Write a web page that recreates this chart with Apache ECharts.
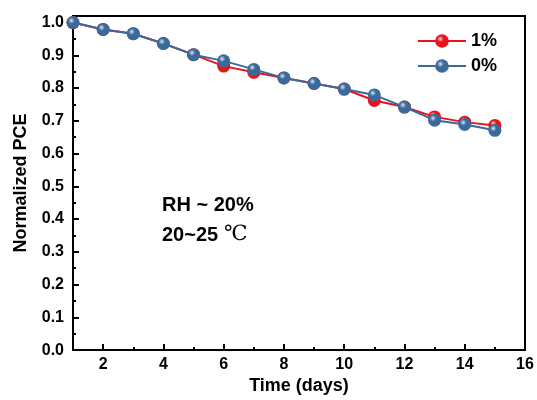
<!DOCTYPE html>
<html><head><meta charset="utf-8">
<script src="https://cdn.jsdelivr.net/npm/echarts@6/dist/echarts.min.js"></script>
<style>html,body{margin:0;padding:0;background:#fff}#c{width:537px;height:400px}</style>
</head><body><div id="c"></div>
<script>
var days = [1,2,3,4,5,6,7,8,9,10,11,12,13,14,15];
var pce1 = [1.0,0.979,0.966,0.936,0.902,0.867,0.848,0.831,0.814,0.797,0.762,0.742,0.712,0.696,0.686];
var pce0 = [1.0,0.979,0.966,0.936,0.902,0.883,0.857,0.831,0.814,0.797,0.779,0.742,0.702,0.689,0.671];
var seriesNames = ['1%','0%'];
var xMajor = [2,4,6,8,10,12,14,16];
var xMinor = [1,3,5,7,9,11,13,15];
var yMajor = [0,0.1,0.2,0.3,0.4,0.5,0.6,0.7,0.8,0.9,1.0];
var yMinor = [0.05,0.15,0.25,0.35,0.45,0.55,0.65,0.75,0.85,0.95];
var noteLines = ['RH ~ 20%','20~25 ℃'];

function ball(c, hi){
  return {type:'radial',x:0.38,y:0.35,r:0.7,colorStops:[{offset:0,color:hi},{offset:0.35,color:c},{offset:1,color:c}]};
}
var chart = echarts.init(document.getElementById('c'),null,{renderer:'canvas'});
var font = 'Arial, "Liberation Sans", sans-serif';
var lbl = {fontFamily:font,fontWeight:'bold',fontSize:16,color:'#000'};
function pairs(v){return days.map(function(d,i){return [d,v[i]];});}
chart.setOption({
  animation:false,
  grid:{left:73,right:12,top:16,bottom:46,show:true,borderColor:'#000',borderWidth:2,backgroundColor:'transparent'},
  legend:{orient:'vertical',left:412,top:27,itemWidth:48,itemHeight:17,itemGap:7,
    textStyle:{fontFamily:font,fontWeight:'bold',fontSize:18,color:'#000'},data:seriesNames},
  xAxis:[
    {type:'value',min:1,max:16,
     axisLine:{lineStyle:{color:'#000',width:2}},
     axisTick:{inside:true,length:6,lineStyle:{color:'#000',width:2},customValues:xMajor},
     axisLabel:Object.assign({margin:6,customValues:xMajor},lbl),
     splitLine:{show:false},
     name:'Time (days)',nameLocation:'middle',nameGap:26,
     nameTextStyle:{fontFamily:font,fontWeight:'bold',fontSize:18,color:'#000'}},
    {type:'value',min:1,max:16,position:'bottom',
     axisLine:{show:false},
     axisTick:{inside:true,length:3,lineStyle:{color:'#000',width:2},customValues:xMinor},
     axisLabel:{show:false},splitLine:{show:false}}
  ],
  yAxis:[
    {type:'value',min:0,max:1.02,
     axisLine:{lineStyle:{color:'#000',width:2}},
     axisTick:{inside:true,length:6,lineStyle:{color:'#000',width:2},customValues:yMajor},
     axisLabel:Object.assign({margin:9,customValues:yMajor,formatter:function(v){return v.toFixed(1);}},lbl),
     splitLine:{show:false},
     name:'Normalized PCE',nameLocation:'middle',nameGap:43,
     nameTextStyle:{fontFamily:font,fontWeight:'bold',fontSize:18,color:'#000'}},
    {type:'value',min:0,max:1.02,position:'left',
     axisLine:{show:false},
     axisTick:{inside:true,length:3,lineStyle:{color:'#000',width:2},customValues:yMinor},
     axisLabel:{show:false},splitLine:{show:false}}
  ],
  graphic:[
    {type:'text',left:162,top:195,style:{text:noteLines[0],font:'bold 20px Arial, "Liberation Sans", sans-serif',fill:'#000'}},
    {type:'text',left:162,top:225,style:{text:noteLines[1].replace('℃',''),font:'bold 20px Arial, "Liberation Sans", sans-serif',fill:'#000'}},
    {type:'text',left:224,top:224,style:{text:'℃',font:'21px "Liberation Serif", "DejaVu Serif", serif',fill:'#000'}}
  ],
  series:[
    {name:seriesNames[0],type:'line',data:pairs(pce1),symbol:'circle',symbolSize:13,
     lineStyle:{color:'#e8131b',width:2},itemStyle:{color:ball('#e8131b','#ffd0d0'),borderWidth:0},z:2},
    {name:seriesNames[1],type:'line',data:pairs(pce0),symbol:'circle',symbolSize:13,
     lineStyle:{color:'#3a6a9a',width:2},itemStyle:{color:ball('#3a6a9a','#d8e6f4'),borderWidth:0},z:3}
  ]
});
</script></body></html>
